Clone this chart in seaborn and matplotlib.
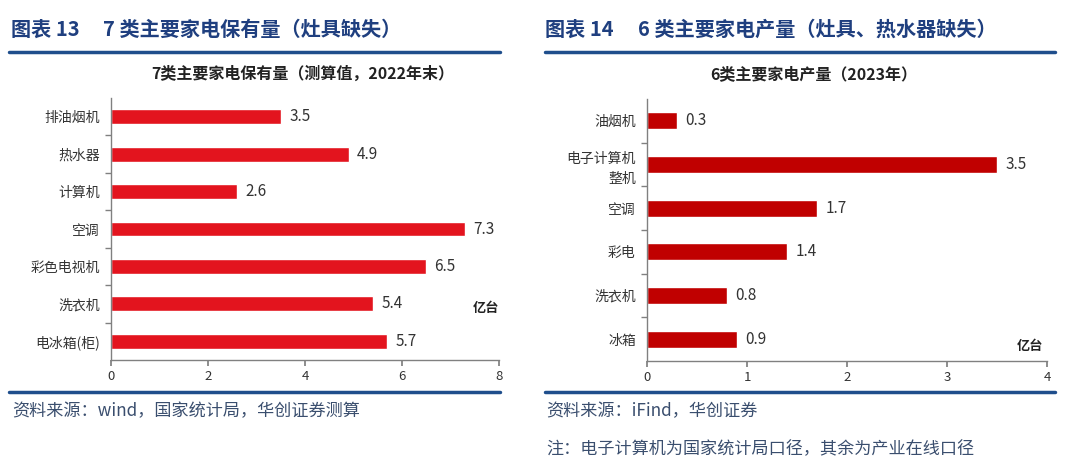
import matplotlib
matplotlib.use("Agg")
import matplotlib.pyplot as plt
import seaborn as sns
import pandas as pd

sns.set_theme(style="white")
plt.rcParams['font.family'] = ['Noto Sans CJK SC', 'DejaVu Sans']

# Data
left_cats = ["排油烟机", "热水器", "计算机", "空调", "彩色电视机", "洗衣机", "电冰箱(柜)"]
left_vals = [3.5, 4.9, 2.6, 7.3, 6.5, 5.4, 5.7]
left_ticks = [0, 2, 4, 6, 8]

right_cats = ["油烟机", "电子计算机\n整机", "空调", "彩电", "洗衣机", "冰箱"]
right_vals = [0.3, 3.5, 1.7, 1.4, 0.8, 0.9]
right_ticks = [0, 1, 2, 3, 4]

W, H = 1080, 467
fig = plt.figure(figsize=(W / 100, H / 100), dpi=100)

BLUE = "#1F4E8C"
HEAD = "#1F3F7F"
GREY = "#808080"


def px_rect(l, t, r, b):
    return [l / W, (H - b) / H, (r - l) / W, (b - t) / H]


def draw(ax, cats, vals, ticks, color, width):
    df = pd.DataFrame({"cat": cats, "val": vals})
    sns.barplot(data=df, y="cat", x="val", orient="h", color=color,
                width=width, ax=ax, saturation=1)
    ax.set_xlim(ticks[0], ticks[-1])
    ax.set_xticks(ticks)
    ax.set_ylim(len(cats) - 0.5, -0.5)
    ax.set_xlabel("")
    ax.set_ylabel("")
    for s in ["top", "right"]:
        ax.spines[s].set_visible(False)
    for s in ["left", "bottom"]:
        ax.spines[s].set_color(GREY)
        ax.spines[s].set_linewidth(1.0)
    ax.set_yticks(range(len(cats)))
    ax.set_yticklabels(cats, fontsize=10, color="#333333", linespacing=1.5)
    ax.tick_params(axis="y", length=0, pad=8)
    ax.set_yticks([i + 0.5 for i in range(len(cats) - 1)], minor=True)
    ax.tick_params(axis="y", which="minor", length=4, color=GREY, direction="out", left=True)
    ax.tick_params(axis="x", length=4, color=GREY, direction="out", bottom=True,
                   labelsize=9.5, labelcolor="#333333", pad=3)
    ax.grid(False)
    for c in ax.containers:
        ax.bar_label(c, labels=[f"{v}" for v in vals], padding=6, fontsize=11,
                     color="#333333")


ax1 = fig.add_axes(px_rect(111, 98, 499, 360))
draw(ax1, left_cats, left_vals, left_ticks, "#E3141E", 0.4)
ax2 = fig.add_axes(px_rect(647, 99, 1047, 361))
draw(ax2, right_cats, right_vals, right_ticks, "#C00000", 0.39)

# Headers
HS = 14.5
fig.text(11 / W, 1 - 29 / H, "图表 13", fontsize=HS, fontweight="bold", color=HEAD, va="center")
fig.text(103 / W, 1 - 29 / H, "7 类主要家电保有量（灶具缺失）", fontsize=HS, fontweight="bold",
         color=HEAD, va="center")
fig.text(545 / W, 1 - 29 / H, "图表 14", fontsize=HS, fontweight="bold", color=HEAD, va="center")
fig.text(638 / W, 1 - 29 / H, "6 类主要家电产量（灶具、热水器缺失）", fontsize=HS, fontweight="bold",
         color=HEAD, va="center")

# Rules
for (x0, x1) in [(9, 500), (545, 1055)]:
    for y in (52, 392):
        fig.add_artist(plt.Line2D([x0 / W, x1 / W], [1 - y / H, 1 - y / H], color=BLUE,
                                  linewidth=2.5, transform=fig.transFigure))

# Chart titles
fig.text(303 / W, 1 - 74 / H, "7类主要家电保有量（测算值，2022年末）", fontsize=11.5,
         fontweight="bold", color="#222222", ha="center", va="center")
fig.text(814 / W, 1 - 74 / H, "6类主要家电产量（2023年）", fontsize=11.5,
         fontweight="bold", color="#222222", ha="center", va="center")

# Units
fig.text(486 / W, 1 - 308 / H, "亿台", fontsize=9.5, fontweight="bold", color="#222222",
         ha="center", va="center")
fig.text(1030 / W, 1 - 346 / H, "亿台", fontsize=9.5, fontweight="bold", color="#222222",
         ha="center", va="center")

# Sources
SRC = "#3A4E6E"
SS = 12.3
fig.text(12 / W, 1 - 411 / H, "资料来源：wind，国家统计局，华创证券测算", fontsize=SS,
         style="italic", color=SRC, va="center")
fig.text(546 / W, 1 - 411 / H, "资料来源：iFind，华创证券", fontsize=SS,
         style="italic", color=SRC, va="center")
fig.text(546 / W, 1 - 449 / H, "注：电子计算机为国家统计局口径，其余为产业在线口径", fontsize=SS,
         style="italic", color=SRC, va="center")

fig.savefig("out.png", dpi=100)
